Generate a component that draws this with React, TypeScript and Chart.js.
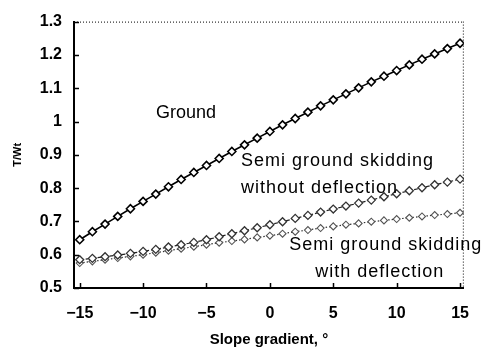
import React, { useEffect, useRef } from "react";
import { Chart, registerables } from "chart.js";

Chart.register(...registerables);

const slopes = [-15, -14, -13, -12, -11, -10, -9, -8, -7, -6, -5, -4, -3, -2, -1, 0, 1, 2, 3, 4, 5, 6, 7, 8, 9, 10, 11, 12, 13, 14, 15];

const groundValues = [0.645, 0.669, 0.692, 0.715, 0.738, 0.760, 0.782, 0.804, 0.826, 0.847, 0.868, 0.889, 0.910, 0.930, 0.950, 0.970, 0.990, 1.009, 1.028, 1.047, 1.065, 1.083, 1.101, 1.119, 1.136, 1.153, 1.170, 1.187, 1.203, 1.219, 1.235];

const semiWithoutDeflection = [0.585, 0.589, 0.594, 0.599, 0.604, 0.610, 0.616, 0.623, 0.630, 0.637, 0.645, 0.654, 0.663, 0.672, 0.681, 0.690, 0.699, 0.709, 0.718, 0.728, 0.737, 0.746, 0.755, 0.764, 0.774, 0.783, 0.792, 0.801, 0.810, 0.818, 0.827];

const semiWithDeflection = [0.575, 0.580, 0.585, 0.590, 0.595, 0.600, 0.606, 0.612, 0.618, 0.624, 0.630, 0.636, 0.641, 0.646, 0.652, 0.657, 0.663, 0.669, 0.674, 0.680, 0.685, 0.690, 0.694, 0.699, 0.703, 0.707, 0.711, 0.715, 0.719, 0.722, 0.726];

const xTickValues = [-15, -10, -5, 0, 5, 10, 15];

const xTitle = "Slope gradient, °";
const yTitle = "T/Wt";

// annotation labels: text, x (data), y baseline (data), letter spacing
const labelTexts = ["Ground", "Semi ground skidding", "without deflection", "Semi ground skidding", "with deflection"];
const labelX = [-8.98, -2.28, -2.28, 1.52, 3.58];
const labelY = [1.01, 0.865, 0.7845, 0.613, 0.533];
const labelSpacing = [0, 1, 1, 1, 1];

const FONT = "'Liberation Sans', Arial, sans-serif";

const framePlugin = {
  id: "frame",
  afterDraw(chart: any) {
    const { ctx, chartArea, scales } = chart;
    const { left, right, top, bottom } = chartArea;
    ctx.save();
    ctx.strokeStyle = "#000";
    ctx.lineWidth = 1;
    ctx.setLineDash([1, 2]);
    ctx.beginPath();
    ctx.moveTo(left, top + 0.5);
    ctx.lineTo(right, top + 0.5);
    ctx.moveTo(right - 0.5, top);
    ctx.lineTo(right - 0.5, bottom);
    ctx.stroke();
    ctx.setLineDash([]);
    ctx.lineWidth = 1.5;
    ctx.beginPath();
    for (const t of scales.y.ticks) {
      const y = Math.round(scales.y.getPixelForValue(t.value)) + 0.5;
      ctx.moveTo(left, y);
      ctx.lineTo(left + 5, y);
    }
    for (const t of scales.x.ticks) {
      const x = Math.round(scales.x.getPixelForValue(t.value)) + 0.5;
      ctx.moveTo(x, bottom);
      ctx.lineTo(x, bottom - 5);
    }
    ctx.stroke();
    ctx.fillStyle = "#000";
    ctx.font = `18px ${FONT}`;
    ctx.textAlign = "left";
    ctx.textBaseline = "alphabetic";
    labelTexts.forEach((txt, i) => {
      (ctx as any).letterSpacing = `${labelSpacing[i]}px`;
      ctx.fillText(txt, scales.x.getPixelForValue(labelX[i]), scales.y.getPixelForValue(labelY[i]));
    });
    (ctx as any).letterSpacing = "0px";
    ctx.restore();
  },
};

export default function App() {
  const ref = useRef<HTMLCanvasElement>(null);
  useEffect(() => {
    document.body.style.margin = "0";
    const canvas = ref.current!;
    const chart = new Chart(canvas, {
      type: "line",
      data: {
        datasets: [
          {
            label: "Ground",
            data: slopes.map((x, i) => ({ x, y: groundValues[i] })),
            borderColor: "#000",
            borderWidth: 1.6,
            pointStyle: "rectRot",
            pointRadius: 4,
            pointBorderWidth: 1.6,
            pointBackgroundColor: "#fff",
            pointBorderColor: "#000",
          },
          {
            label: "Semi ground skidding without deflection",
            data: slopes.map((x, i) => ({ x, y: semiWithoutDeflection[i] })),
            borderColor: "#222",
            borderWidth: 1.2,
            borderDash: [4, 2],
            pointStyle: "rectRot",
            pointRadius: 4,
            pointBorderWidth: 1.3,
            pointBackgroundColor: "#fff",
            pointBorderColor: "#333",
          },
          {
            label: "Semi ground skidding with deflection",
            data: slopes.map((x, i) => ({ x, y: semiWithDeflection[i] })),
            borderColor: "#333",
            borderWidth: 1.2,
            borderDash: [1.5, 2],
            pointStyle: "rectRot",
            pointRadius: 3.5,
            pointBorderWidth: 1.1,
            pointBackgroundColor: "#fff",
            pointBorderColor: "#555",
          },
        ],
      },
      options: {
        animation: false,
        responsive: false,
        devicePixelRatio: 1,
        layout: { padding: { top: 19, right: 7, left: 0, bottom: 0 } },
        plugins: { legend: { display: false }, tooltip: { enabled: false } },
        scales: {
          x: {
            type: "linear",
            min: -15.45,
            max: 15.3,
            afterBuildTicks: (scale: any) => {
              scale.ticks = xTickValues.map((v) => ({ value: v }));
            },
            afterFit: (scale: any) => {
              scale.height = 61;
            },
            grid: { display: false, drawTicks: false },
            border: { display: true, color: "#000", width: 2 },
            ticks: {
              color: "#000",
              padding: 16,
              maxRotation: 0,
              autoSkip: false,
              font: { family: FONT, size: 16, weight: "bold" },
              callback: (v: any) => (v < 0 ? "\u2212" + Math.abs(v) : String(v)),
            },
            title: {
              display: true,
              text: xTitle,
              color: "#000",
              font: { family: FONT, size: 15, weight: "bold" },
              padding: { top: 0, bottom: 0 },
            },
          },
          y: {
            min: 0.5,
            max: 1.3,
            afterFit: (scale: any) => {
              scale.width = 74;
            },
            grid: { display: false, drawTicks: false },
            border: { display: true, color: "#000", width: 2 },
            ticks: {
              stepSize: 0.1,
              color: "#000",
              padding: 12,
              font: { family: FONT, size: 16, weight: "bold" },
              callback: (v: any) => String(Number(Number(v).toFixed(1))),
            },
            title: {
              display: true,
              text: yTitle,
              color: "#000",
              font: { family: FONT, size: 11, weight: "bold" },
              padding: { top: 11, bottom: 0 },
            },
          },
        },
      },
      plugins: [framePlugin],
    });
    return () => chart.destroy();
  }, []);
  return <canvas ref={ref} width={485} height={349} style={{ display: "block" }} />;
}
